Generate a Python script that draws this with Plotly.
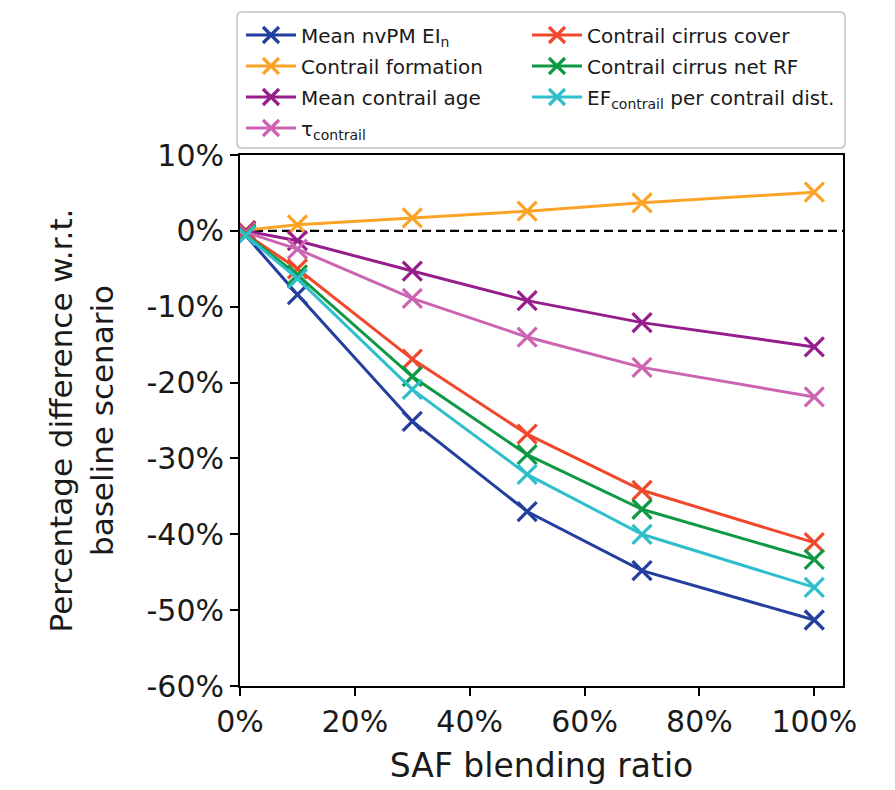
import plotly.graph_objects as go

# ---- data ----
saf_ratio = [1, 10, 30, 50, 70, 100]
nvpm_ei = [-0.6, -8.4, -25.1, -37.0, -44.8, -51.3]
contrail_formation = [0.1, 0.8, 1.7, 2.6, 3.7, 5.1]
contrail_age = [0.0, -1.3, -5.3, -9.2, -12.1, -15.3]
tau_contrail = [-0.2, -2.4, -8.9, -14.0, -18.0, -21.9]
cirrus_cover = [-0.4, -5.0, -16.9, -26.8, -34.2, -41.1]
cirrus_net_rf = [-0.5, -5.8, -19.2, -29.5, -36.7, -43.3]
ef_per_dist = [-0.6, -6.3, -20.9, -32.1, -40.0, -47.0]

series_names = [
    "Mean nvPM EI<sub>n</sub>",
    "Contrail formation",
    "Mean contrail age",
    "τ<sub>contrail</sub>",
    "Contrail cirrus cover",
    "Contrail cirrus net RF",
    "EF<sub>contrail</sub> per contrail dist.",
]
series_values = [nvpm_ei, contrail_formation, contrail_age, tau_contrail,
                 cirrus_cover, cirrus_net_rf, ef_per_dist]
colors = ["#233e9e", "#fca327", "#961d8c", "#cc64b2", "#f1472b", "#0f9944", "#2fbfcc"]

x_tick_values = [0, 20, 40, 60, 80, 100]
x_tick_labels = ["0%", "20%", "40%", "60%", "80%", "100%"]
y_tick_values = [10, 0, -10, -20, -30, -40, -50, -60]
y_tick_labels = ["10%", "0%", "-10%", "-20%", "-30%", "-40%", "-50%", "-60%"]

# figure drawn at an 8px page offset -> work in figure pixels
W, H = 887, 782
L, R, T, B = 232, 52, 147, 104
FONT = "DejaVu Sans"
pw, ph = W - L - R, H - T - B
def px(xp): return (xp - L) / pw
def py(yp): return (H - B - yp) / ph

fig = go.Figure()

# legend slot positions (figure pixels): column-wise like matplotlib ncol=2
leg_cols = [233, 519]
leg_rows = [27, 58, 89, 120]
slots = [(0, 0), (0, 1), (0, 2), (0, 3), (1, 0), (1, 1), (1, 2)]

layout_legends = {}
for i, (name, vals, col) in enumerate(zip(series_names, series_values, colors)):
    key = "legend" if i == 0 else f"legend{i+1}"
    fig.add_trace(go.Scatter(
        x=saf_ratio, y=vals, name=name, mode="lines+markers",
        line=dict(color=col, width=3),
        marker=dict(symbol="x-thin", size=19, color=col, line=dict(width=3.2, color=col)),
        legend=key, showlegend=True,
    ))
    c, r = slots[i]
    layout_legends[key] = dict(
        x=px(leg_cols[c]), y=py(leg_rows[r]), xref="paper", yref="paper",
        xanchor="left", yanchor="middle", bgcolor="rgba(0,0,0,0)", borderwidth=0,
        itemwidth=50,
        font=dict(family=FONT, size=20, color="#1a1a1a"),
    )

fig.add_hline(y=0, line=dict(color="black", width=2.4, dash="9px,5px"), layer="below")

# legend frame with rounded corners
x0, x1, y0, y1 = 229, 837, 4, 140
rad = 5
rx, ry = rad / pw, rad / ph
X0, X1, Y0, Y1 = px(x0), px(x1), py(y1), py(y0)
frame_path = (f"M {X0+rx},{Y1} L {X1-rx},{Y1} Q {X1},{Y1} {X1},{Y1-ry} "
              f"L {X1},{Y0+ry} Q {X1},{Y0} {X1-rx},{Y0} L {X0+rx},{Y0} "
              f"Q {X0},{Y0} {X0},{Y0+ry} L {X0},{Y1-ry} Q {X0},{Y1} {X0+rx},{Y1} Z")
fig.add_shape(type="path", xref="paper", yref="paper", path=frame_path,
              line=dict(color="#cfcfcf", width=2), fillcolor="rgba(0,0,0,0)")

fig.update_layout(
    width=W, height=H,
    margin=dict(l=L, r=R, t=T, b=B, autoexpand=False),
    paper_bgcolor="white", plot_bgcolor="white",
    font=dict(family=FONT, color="#1a1a1a"),
    **layout_legends,
)
fig.update_xaxes(
    range=[0, 105], tickvals=x_tick_values, ticktext=x_tick_labels,
    showgrid=False, zeroline=False, showline=True, mirror=True,
    linecolor="black", linewidth=2, ticks="outside", ticklen=8, tickwidth=2,
    tickcolor="black", tickfont=dict(family=FONT, size=30),
    title=dict(text="SAF blending ratio", font=dict(family=FONT, size=33), standoff=16),
)
fig.update_yaxes(
    range=[-60, 10], tickvals=y_tick_values, ticktext=y_tick_labels,
    showgrid=False, zeroline=False, showline=True, mirror=True,
    linecolor="black", linewidth=2, ticks="outside", ticklen=8, tickwidth=2,
    tickcolor="black", tickfont=dict(family=FONT, size=30),
    title=dict(text="Percentage difference w.r.t.<br>baseline scenario",
               font=dict(family=FONT, size=31), standoff=24),
)

fig.write_html("out.html", config={"displayModeBar": False})
